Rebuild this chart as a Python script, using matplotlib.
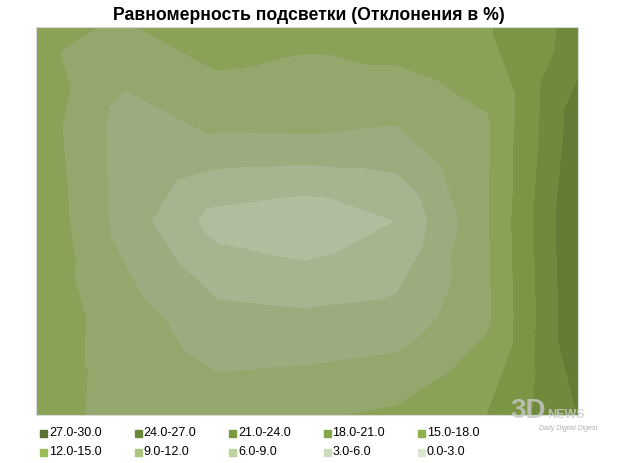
import matplotlib
matplotlib.use("Agg")
from matplotlib import pyplot as plt
from matplotlib.patches import Rectangle
import matplotlib.tri as mtri
import numpy as np

# deviation (%) measured on a 7 x 5 grid, top row first
row0 = [18.6, 17.7, 19.9, 18.8, 19.9, 20.7, 25.0]
row1 = [19.8, 13.5, 15.6, 15.8, 15.0, 17.6, 28.6]
row2 = [20.5, 13.6, 7.7, 6.5, 9.0, 17.7, 29.9]
row3 = [19.9, 16.4, 13.0, 12.5, 13.0, 17.4, 29.5]
row4 = [18.8, 17.3, 16.5, 17.5, 18.5, 21.0, 27.0]

levels = [0, 3, 6, 9, 12, 15, 18, 21, 24, 27, 30]
labels = ["0.0-3.0", "3.0-6.0", "6.0-9.0", "9.0-12.0", "12.0-15.0",
          "15.0-18.0", "18.0-21.0", "21.0-24.0", "24.0-27.0", "27.0-30.0"]

# colours as they appear in the plot (muted) and in the legend
fill_colors = ["#bccaad", "#b6c3a6", "#b0bd9f", "#a6b48f", "#9dac7f",
               "#94a86e", "#8aa257", "#7a9645", "#6f8a3c", "#657c36"]
key_colors = ["#dbe6cf", "#cadcba", "#bad39f", "#acc77f", "#9bbd55",
              "#90b050", "#86a64a", "#7a9b40", "#6b8a38", "#5b7032"]

z = np.array([row0, row1, row2, row3, row4])
nr, nc = z.shape

# Excel style: every cell split in 4 triangles around its centre
px, py, pz = [], [], []
for i in range(nr):
    for j in range(nc):
        px.append(j)
        py.append(i)
        pz.append(z[i, j])
tris = []
for i in range(nr - 1):
    for j in range(nc - 1):
        a = i * nc + j
        b = a + 1
        d = a + nc
        c = d + 1
        e = len(px)
        px.append(j + 0.5)
        py.append(i + 0.5)
        pz.append(z[i:i + 2, j:j + 2].mean())
        tris += [[a, b, e], [b, c, e], [c, d, e], [d, a, e]]
tri = mtri.Triangulation(px, py, tris)

fig = plt.figure(figsize=(6.18, 4.63), dpi=100)
ax = fig.add_axes([36 / 618, 1 - 415 / 463, 542 / 618, 388 / 463])
cs = ax.tricontourf(tri, pz, levels=levels, colors=fill_colors)
cs.set_edgecolor("face")
cs.set_linewidth(0.6)
ax.set_xlim(0, nc - 1)
ax.set_ylim(nr - 1, 0)
ax.set_xticks([])
ax.set_yticks([])
for s in ax.spines.values():
    s.set_color("#d9d9d9")
    s.set_linewidth(0.8)

fig.text(0.5, 1 - 16 / 463, "Равномерность подсветки (Отклонения в %)",
         ha="center", va="center", fontsize=12.7, fontweight="bold",
         family="Liberation Sans")

# legend: two rows of five, highest band first
order = list(range(9, -1, -1))
for k, idx in enumerate(order):
    col, row = k % 5, k // 5
    x0 = 40 + col * 94.5
    y0 = 433 + row * 19
    fig.patches.append(Rectangle((x0 / 618, 1 - (y0 + 3.5) / 463), 7 / 618, 7 / 463,
                                 transform=fig.transFigure, color=key_colors[idx]))
    fig.text((x0 + 9) / 618, 1 - y0 / 463, labels[idx], ha="left", va="center",
             fontsize=9, family="Liberation Sans")

# site watermark
fig.text(546 / 618, 1 - 411 / 463, "3D", ha="right", va="center", fontsize=20,
         fontweight="bold", color="#c8c8c8", alpha=0.8, family="Liberation Sans")
fig.text(547 / 618, 1 - 415 / 463, "NEWS", ha="left", va="center", fontsize=9,
         fontweight="bold", color="#d0d0d0", alpha=0.8, family="Liberation Sans")
fig.text(597 / 618, 1 - 428 / 463, "Daily Digital Digest", ha="right", va="center",
         fontsize=5, fontstyle="italic", color="#b0b0b0", family="Liberation Sans")

fig.savefig("out.png", dpi=100)
